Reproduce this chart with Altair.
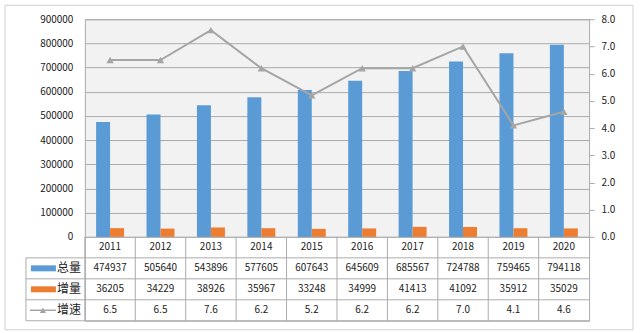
import altair as alt
import pandas as pd

# ---- data ----
years = ["2011", "2012", "2013", "2014", "2015", "2016", "2017", "2018", "2019", "2020"]
total = [474937, 505640, 543896, 577605, 607643, 645609, 685567, 724788, 759465, 794118]
increment = [36205, 34229, 38926, 35967, 33248, 34999, 41413, 41092, 35912, 35029]
growth = [6.5, 6.5, 7.6, 6.2, 5.2, 6.2, 6.2, 7.0, 4.1, 4.6]
series_names = ["总量", "增量", "增速"]
left_ticks = [0, 100000, 200000, 300000, 400000, 500000, 600000, 700000, 800000, 900000]
right_ticks = [0, 1, 2, 3, 4, 5, 6, 7, 8]
year_row = "年份"

# ---- style ----
BLUE, ORANGE, GRAY = "#5B9BD5", "#ED7D31", "#A5A5A5"
LINE = "#ABABAB"
TXT = "#222222"
FONT = "Noto Sans CJK SC"

bar_df = pd.DataFrame({
    "year": years * 2,
    "series": [series_names[0]] * len(years) + [series_names[1]] * len(years),
    "value": total + increment,
})
line_df = pd.DataFrame({"year": years, "rate": growth})

rows = [year_row] + series_names
tab = []
for i, y in enumerate(years):
    tab.append({"year": y, "row": year_row, "label": y})
    tab.append({"year": y, "row": series_names[0], "label": str(total[i])})
    tab.append({"year": y, "row": series_names[1], "label": str(increment[i])})
    tab.append({"year": y, "row": series_names[2], "label": f"{growth[i]:.1f}"})
table_df = pd.DataFrame(tab)
series_df = pd.DataFrame({"row": series_names})
year_df = pd.DataFrame({"year": years})
one_df = pd.DataFrame({"a": [0]})

# ---- top chart ----
xscale = alt.Scale(domain=years, paddingInner=0.4455, paddingOuter=0.2228)
bars = alt.Chart(bar_df).mark_bar().encode(
    x=alt.X("year:N", sort=years, scale=xscale, axis=None),
    xOffset=alt.XOffset("series:N", sort=series_names[:2],
                        scale=alt.Scale(domain=series_names[:2], paddingInner=0, paddingOuter=0)),
    y=alt.Y("value:Q", scale=alt.Scale(domain=[0, 900000], nice=False),
            axis=alt.Axis(title=None, values=left_ticks, format="d", ticks=False, tickSize=0,
                          domain=False, labelPadding=12, grid=True, gridColor=LINE,
                          labelFontSize=10, labelColor=TXT, labelFont=FONT)),
    color=alt.Color("series:N", scale=alt.Scale(domain=series_names[:2], range=[BLUE, ORANGE]), legend=None),
)
line = alt.Chart(line_df).mark_line(
    color=GRAY, strokeWidth=2,
    point=alt.OverlayMarkDef(shape="triangle-up", size=55, color=GRAY, filled=True, opacity=1),
).encode(
    x=alt.X("year:N", sort=years, scale=xscale, axis=None),
    y=alt.Y("rate:Q", scale=alt.Scale(domain=[0, 8], nice=False),
            axis=alt.Axis(orient="right", title=None, values=right_ticks, format=".1f",
                          tickSize=5, tickColor=LINE, domain=False, grid=False, labelPadding=7,
                          labelFontSize=10, labelColor=TXT, labelFont=FONT)),
)
top = alt.layer(bars, line).resolve_scale(y="independent").properties(
    width=505, height=218, view=alt.ViewBackground(fill="#F2F2F2", stroke=LINE)
)

# ---- table chart ----
tx = alt.X("year:N", sort=years, scale=alt.Scale(domain=years, paddingInner=0, paddingOuter=0), axis=None)
ty = alt.Y("row:N", sort=rows, scale=alt.Scale(domain=rows, paddingInner=0, paddingOuter=0), axis=None)

cells = alt.Chart(table_df).mark_text(fontSize=10, color=TXT, font=FONT).encode(
    x=tx, y=ty, text="label:N")
vlines = alt.Chart(year_df).mark_rule(color=LINE, strokeWidth=1).encode(
    x=alt.X("year:N", sort=years, scale=alt.Scale(domain=years, paddingInner=0, paddingOuter=0),
            axis=None, bandPosition=0))
hlines = alt.Chart(series_df).mark_rule(color=LINE, strokeWidth=1).encode(
    y=alt.Y("row:N", sort=rows, scale=alt.Scale(domain=rows, paddingInner=0, paddingOuter=0),
            axis=None, bandPosition=0),
    x=alt.value(-59), x2=alt.value("width"))
bottom_line = alt.Chart(one_df).mark_rule(color=LINE, strokeWidth=1).encode(
    y=alt.value("height"), x=alt.value(-59), x2=alt.value("width"))
left_line = alt.Chart(series_df.iloc[:1]).mark_rule(color=LINE, strokeWidth=1).encode(
    y=alt.Y("row:N", sort=rows, scale=alt.Scale(domain=rows, paddingInner=0, paddingOuter=0),
            axis=None, bandPosition=0),
    y2=alt.value("height"), x=alt.value(-59))
row_labels = alt.Chart(series_df).mark_text(fontSize=12, color=TXT, font=FONT, align="right").encode(
    y=ty, x=alt.value(-4), text="row:N")
swatch_bars = alt.Chart(series_df.iloc[:2]).mark_rule(strokeWidth=6, strokeCap="butt").encode(
    y=ty, x=alt.value(-54), x2=alt.value(-29),
    color=alt.Color("row:N", scale=alt.Scale(domain=series_names[:2], range=[BLUE, ORANGE]), legend=None))
swatch_line = alt.Chart(series_df.iloc[2:]).mark_rule(strokeWidth=1.5, color=GRAY).encode(
    y=ty, x=alt.value(-55), x2=alt.value(-29))
swatch_pt = alt.Chart(series_df.iloc[2:]).mark_point(shape="triangle-up", size=40, filled=True,
                                                     color=GRAY, opacity=1).encode(
    y=ty, x=alt.value(-42))
border = alt.Chart(one_df).mark_rect(fillOpacity=0, stroke="#D0D0D0", strokeWidth=1).encode(
    x=alt.value(-80), x2=alt.value(549), y=alt.value(-232), y2=alt.value(93))

table = alt.layer(vlines, hlines, bottom_line, left_line, cells, row_labels,
                  swatch_bars, swatch_line, swatch_pt, border).properties(
    width=505, height=84, view=alt.ViewBackground(fill="white", stroke=LINE)
)

chart = alt.vconcat(top, table, spacing=0, bounds="flush").resolve_scale(
    x="independent", y="independent", color="independent"
).properties(
    padding={"left": 4, "top": 4, "right": 6, "bottom": 3}, background="white"
).configure(font=FONT)

chart.save("out.html", embed_options={"renderer": "svg", "actions": False})
